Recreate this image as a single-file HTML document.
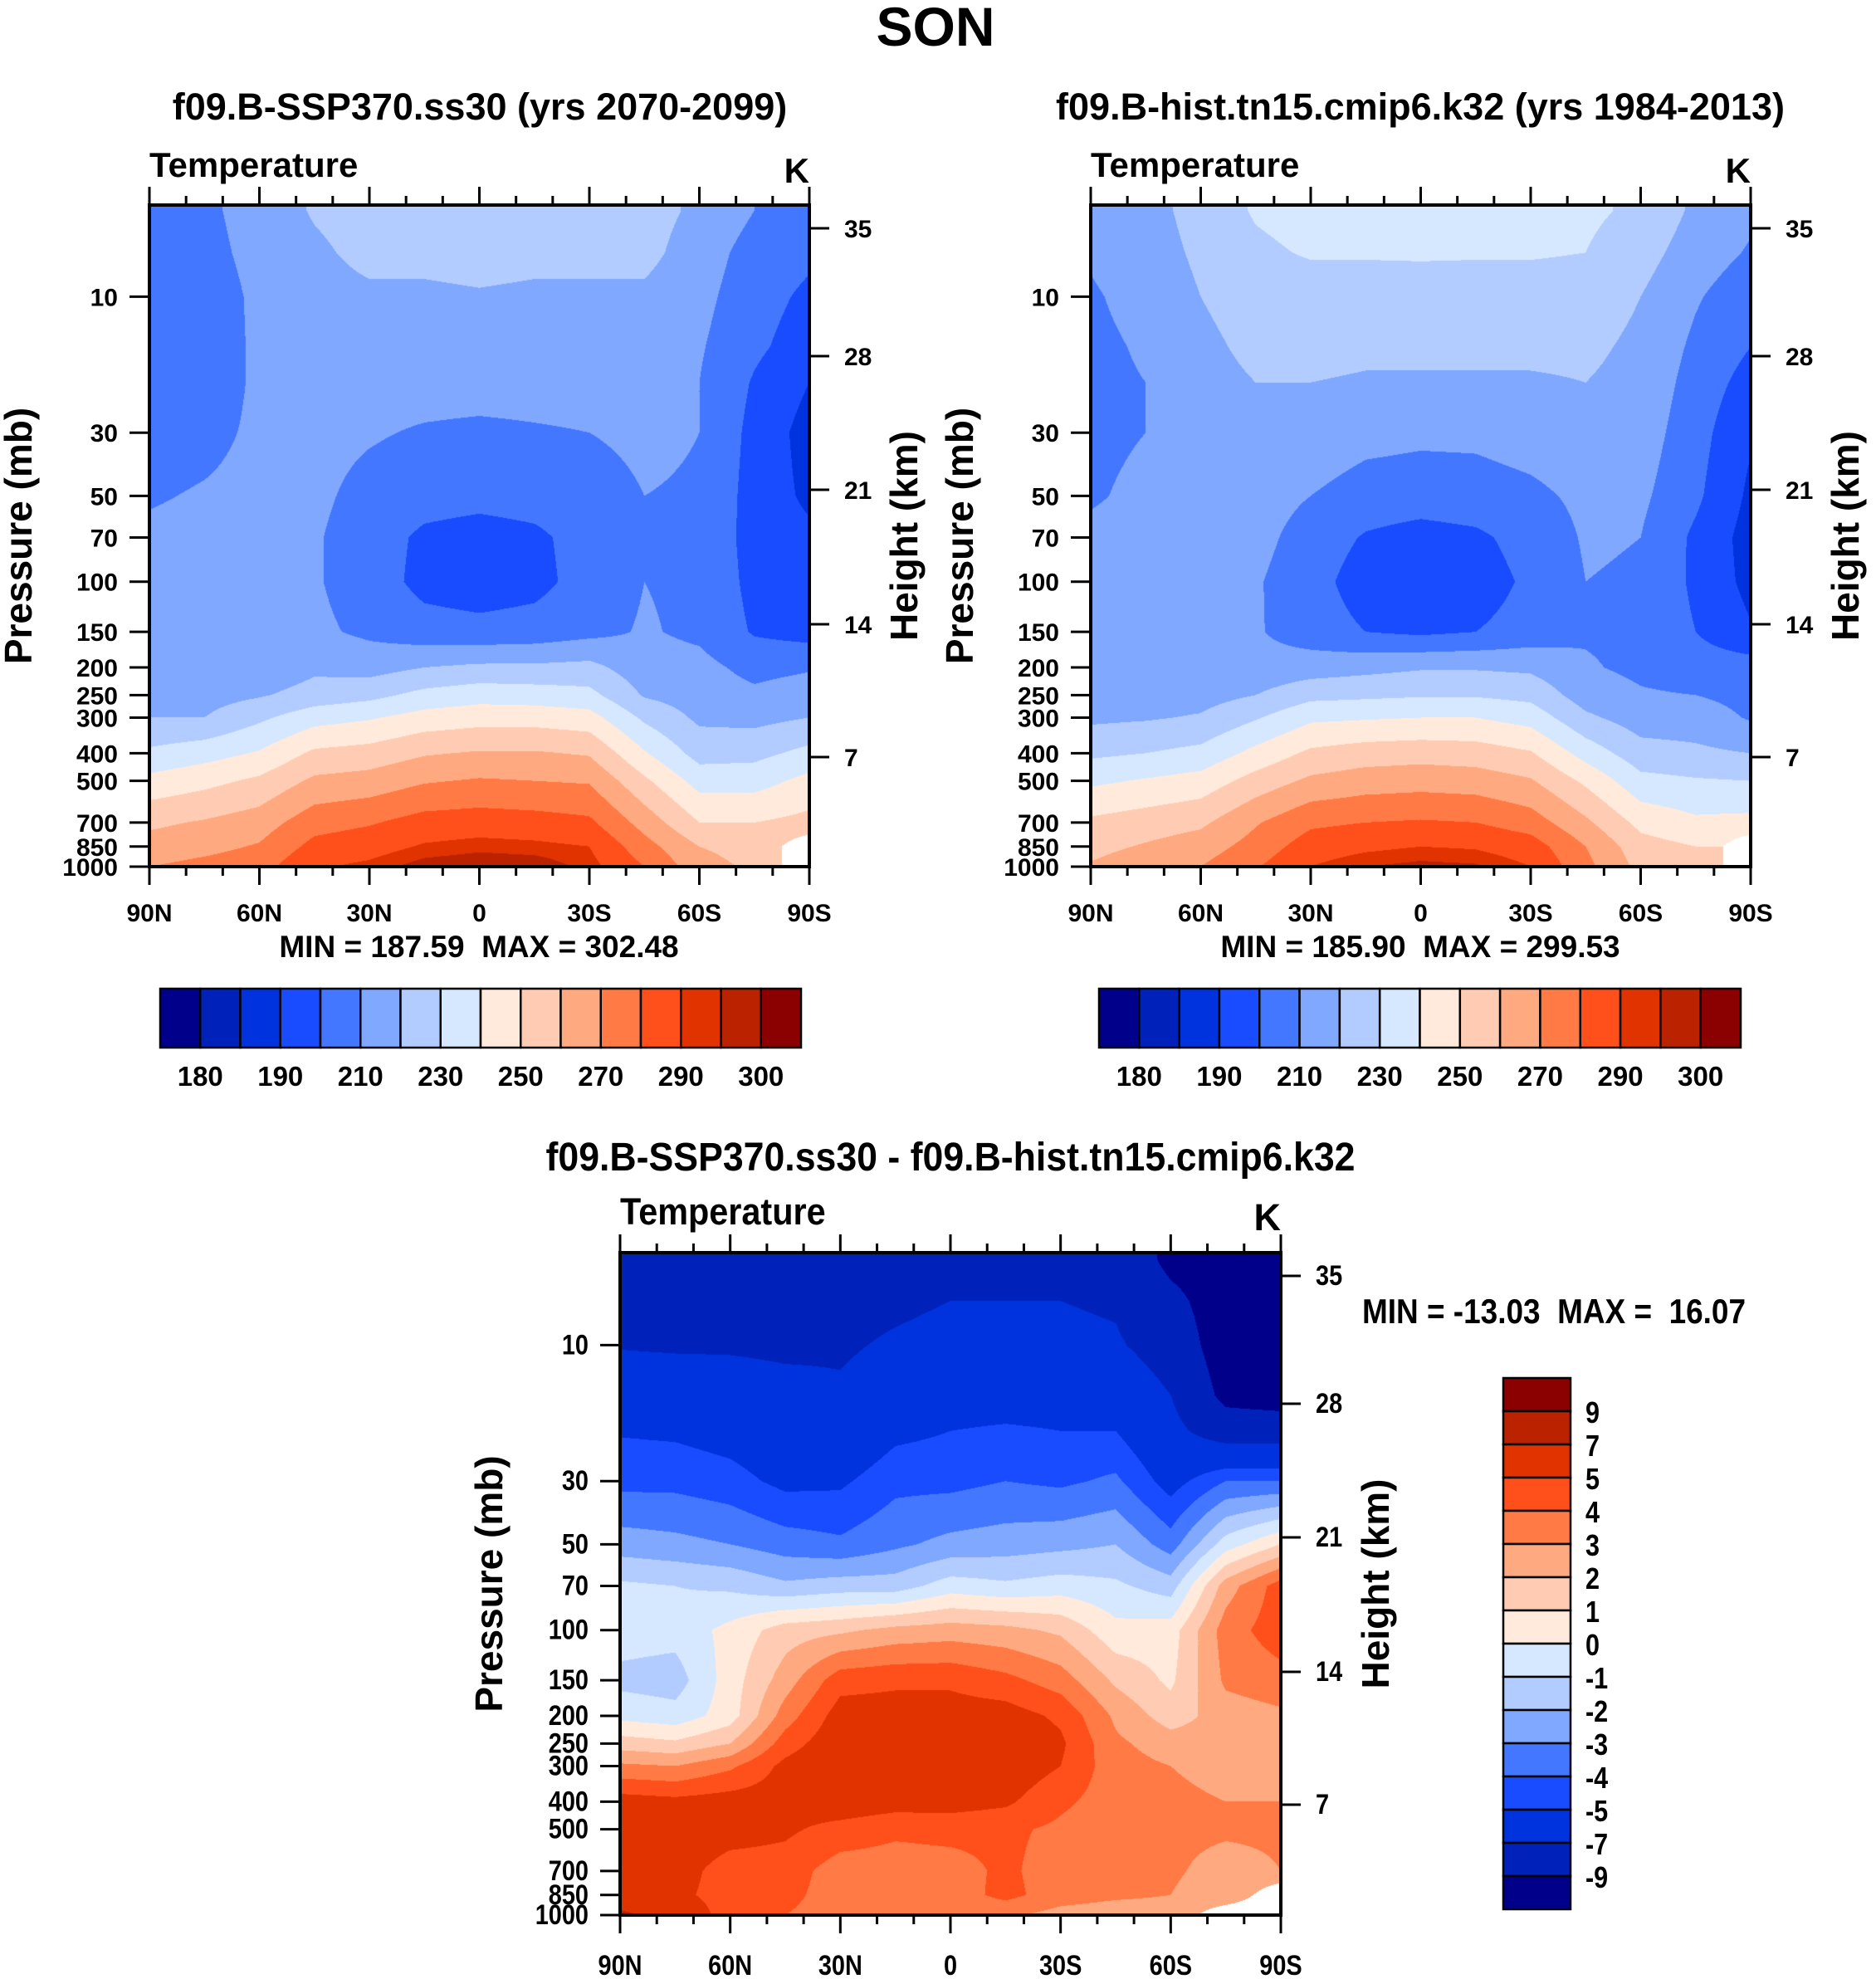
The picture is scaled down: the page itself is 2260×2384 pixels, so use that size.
<!DOCTYPE html>
<html><head><meta charset="utf-8"><style>
html,body{margin:0;padding:0;background:#fff;}
#root{position:relative;width:2260px;height:2384px;overflow:hidden;background:#fff;}
canvas{position:absolute;}
svg{position:absolute;left:0;top:0;}
text{font-family:"Liberation Sans",sans-serif;font-weight:bold;fill:#000;white-space:pre;}
</style></head><body>
<div id="root">
<canvas id="c1"></canvas>
<canvas id="c2"></canvas>
<canvas id="c3"></canvas>
<svg id="ov" width="2260" height="2384"></svg>
</div>
<script>
const LATS=[90,75,60,45,30,15,0,-15,-30,-45,-60,-75,-90];
const PLEVS=[5,7,10,15,20,30,50,70,100,150,200,250,300,400,500,700,850,1000];
const T_FUT=[
[204,208,214,221,225,226,226,226,225,224,218,210,206],
[204,207,213,218,223,223,224,223,223,223,215,206,202],
[203,205,212,216,218,218,219,218,218,218,213,204,198],
[203,204,212,215,216,216,216,216,216,215,211,202,195],
[204,204,212,214,214,214,214,214,214,214,210,199,190],
[205,207,212,213,211,209,208,209,210,212,210,197,186],
[209,211,213,212,207,204,203,204,206,210,209,196,188],
[212,213,213,211,205,198,196,198,204,210,208,196,192],
[214,214,214,211,205,197,195,197,204,210,208,197,194],
[215,215,215,212,208,204,203,204,207,211,208,199,196],
[212,212,212,218,216,220,222,222,223,214,213,207,209],
[215,216,219,224,227,233,236,235,233,219,215,212,215],
[220,220,228,236,239,244,246,246,244,228,218,217,220],
[232,236,241,252,254,259,261,261,259,241,226,227,233],
[243,247,252,262,264,269,271,270,269,252,236,236,243],
[258,261,265,276,279,284,285,284,282,266,250,250,253],
[264,267,271,283,286,291,293,292,290,274,260,256,null],
[270,273,276,289,292,298,300,299,293,280,264,258,null]];
const T_HIST=[
[212,216,224,231,234,235,235,235,234,232,228,218,212],
[211,215,222,228,231,231,231,231,231,230,224,215,209],
[209,213,220,224,225,225,226,225,225,225,220,211,204],
[208,211,218,222,223,222,222,222,222,222,218,208,200],
[208,210,217,220,220,219,219,219,219,220,217,206,196],
[208,210,216,218,216,213,212,212,214,216,215,204,191],
[209,212,214,214,210,206,205,206,208,212,212,202,188],
[212,213,214,213,206,199,196,198,204,211,210,198,186],
[214,214,214,211,204,195,193,195,202,210,209,198,187],
[215,215,215,211,205,200,198,200,204,209,208,200,191],
[211,211,211,213,215,217,219,219,218,211,208,205,205],
[214,215,216,220,227,228,229,229,227,215,211,210,207],
[218,219,221,229,238,239,240,240,236,222,215,215,209],
[228,230,233,243,252,255,256,255,251,236,224,222,220],
[238,241,244,254,262,265,266,265,261,248,233,231,230],
[252,255,258,269,278,280,281,280,275,262,247,242,243],
[257,261,265,274,285,288,290,289,285,270,254,250,null],
[261,266,270,279,290,295,297,296,290,273,257,252,null]];
const T_DIFF=[
[-8,-8,-8,-8,-8,-8,-7.5,-7.5,-7.5,-7.5,-9.5,-10,-10],
[-7.8,-7.8,-7.7,-7.5,-7.5,-7.3,-7,-7,-7,-7.2,-8.5,-10,-10],
[-7.1,-7.2,-7.2,-7.3,-7.2,-6.8,-6.5,-6.5,-6.6,-6.8,-7.8,-10,-10],
[-6,-6,-6.2,-6.5,-6.8,-6.2,-5.8,-5.8,-5.8,-5.8,-7,-9.5,-9.8],
[-5.1,-5.2,-5.5,-6,-6.3,-5.3,-5,-4.8,-5,-5,-6.5,-8,-8],
[-4.3,-4.3,-4.6,-5.3,-5.2,-4.3,-4.3,-4,-4.2,-3.8,-5.5,-4,-4],
[-2.5,-2.7,-3,-3.5,-3.8,-3.2,-2.7,-2.5,-2.3,-2,-3.5,-0.5,1],
[-0.8,-1,-1.2,-1.8,-1.5,-1.5,-0.5,-0.8,-0.5,-0.8,-1.5,2.5,4.5],
[-0.5,-0.6,0.3,1.5,1.8,2.3,2.5,2.3,1.8,0.3,0.5,3.5,4.6],
[-1.3,-1.5,0.5,2.5,4.6,4.8,4.8,4.3,3.5,1.8,0.8,3.2,3.6],
[-0.3,-0.6,0.5,3.5,5.5,5.5,5.5,5.5,4.8,2.8,1.5,2.5,2.8],
[1.5,1.2,2,4.5,5.8,5.8,5.8,5.8,5.2,3.2,2.5,2.5,2.6],
[3.2,3,3.8,5.3,6,6,6,5.8,5,3.4,3,2.7,2.7],
[5.5,5.3,5.5,5.5,5.8,5.5,5.5,5.2,4.2,3.5,3.2,3,3],
[5.8,5.8,5.5,5.2,4.6,4.2,4.3,4.2,3.8,3.4,3.3,3.2,3.2],
[5.5,5.5,4.5,4.5,3.5,3.5,3.6,4.2,3.5,3.3,3.2,2.5,3],
[5.5,5.3,4.5,4.3,3.5,3.5,3.5,4.3,3.5,3.2,3,2.2,null],
[7.5,6,4.5,4,3.5,3.5,3.2,3.2,2.6,2.4,2.5,null,null]];
const BOUNDS_T=[180,185,190,200,210,220,230,240,250,260,270,280,290,295,300];
const BOUNDS_D=[-9,-7,-5,-4,-3,-2,-1,0,1,2,3,4,5,7,9];
const LABELS_T=["180","190","210","230","250","270","290","300"];
const LABELS_D=["9","7","5","4","3","2","1","0","-1","-2","-3","-4","-5","-7","-9"];
const COLORS=["#00008b","#0022bb","#0033dd","#1a4cff","#4477ff","#80a8ff","#b3ccff","#d6e8ff","#ffeadb","#ffccb3","#ffa980","#ff7a45","#ff4f1a","#e03300","#bb2200","#8b0000"];
const PTICKS=[10,30,50,70,100,150,200,250,300,400,500,700,850,1000];
const HTICKS=[35,28,21,14,7];
const HTICKY=[28,182,343,505,665];
const XLAB=["90N","60N","30N","0","30S","60S","90S"];

const DEC=343.3;
function rgb(h){return [parseInt(h.substr(1,2),16),parseInt(h.substr(3,2),16),parseInt(h.substr(5,2),16)];}
const RGB=COLORS.map(rgb);
function lvl(v,b){let k=0;while(k<b.length&&v>=b[k])k++;return k;}
const LP=PLEVS.map(p=>Math.log10(p));
function sample(grid,lat,p){
  let fx=(90-lat)/15; if(fx<0)fx=0; if(fx>12)fx=12;
  let i0=Math.min(11,Math.floor(fx)); let tx=fx-i0;
  let lp=Math.log10(p); let j=0; let ty=0;
  if(lp>LP[0]){while(j<LP.length-2&&lp>LP[j+1])j++; ty=(lp-LP[j])/(LP[j+1]-LP[j]); if(ty>1)ty=1;}
  const c=[[grid[j][i0],(1-tx)*(1-ty)],[grid[j][i0+1],tx*(1-ty)],[grid[j+1][i0],(1-tx)*ty],[grid[j+1][i0+1],tx*ty]];
  let s=0,w=0,nw=0;
  for(const [v,ww] of c){if(v===null)nw+=ww;else{s+=v*ww;w+=ww;}}
  if(nw>0.5||w===0)return null;
  return s/w;
}
function drawCanvas(id,grid,bounds,L,T,W,H){
  const cv=document.getElementById(id);
  cv.width=W;cv.height=H;cv.style.left=L+'px';cv.style.top=T+'px';
  const ctx=cv.getContext('2d');const im=ctx.createImageData(W,H);
  for(let y=0;y<H;y++){
    const p=Math.pow(10,3-(H-y-0.5)/DEC);
    for(let x=0;x<W;x++){
      const lat=90-180*(x+0.5)/W;
      const v=sample(grid,lat,p);
      const o=(y*W+x)*4;
      let col=[255,255,255];
      if(v!==null)col=RGB[lvl(v,bounds)];
      im.data[o]=col[0];im.data[o+1]=col[1];im.data[o+2]=col[2];im.data[o+3]=255;
    }
  }
  ctx.putImageData(im,0,0);
}
const NS="http://www.w3.org/2000/svg";
const ov=document.getElementById('ov');
function el(tag,attrs){const e=document.createElementNS(NS,tag);for(const k in attrs)e.setAttribute(k,attrs[k]);ov.appendChild(e);return e;}
function txt(x,y,s,size,anchor,sx,rot){
  const e=el('text',{x:0,y:0,'font-size':size,'text-anchor':anchor||'start',transform:`translate(${x},${y})`+(rot?` rotate(${rot})`:'')+(sx?` scale(${sx},1)`:'')});
  e.textContent=s;return e;
}
function line(x1,y1,x2,y2,w){return el('line',{x1,y1,x2,y2,stroke:'#000','stroke-width':w||3});}

function panel(L,T,W,H,o){
  const R=L+W,B=T+H;const sx=o.sx;
  const fr=el('rect',{x:L,y:T,width:W,height:H,fill:'none',stroke:'#000','stroke-width':4});
  
  
  for(let k=0;k<=18;k++){
    const x=L+W*k/18;const major=k%3===0;const len=major?22:11;
    const t1=line(x,T,x,T-len,3);
    
    
    const t2=line(x,B,x,B+len,3);
    
    
  }
  XLAB.forEach((s,k)=>{
    const t=txt(L+W*k/6,B+o.xly,s,o.fs,'middle',sx);
    
    
  });
  PTICKS.forEach(p=>{
    const y=B-(3-Math.log10(p))*DEC;
    const t=line(L,y,L-24,y,3);
    
    
    const lb=txt(L-38,y+11,String(p),o.fs,'end',sx);
    
    
  });
  HTICKS.forEach((h,k)=>{
    const y=T+HTICKY[k];
    const t=line(R,y,R+24,y,3);
    
    
    const lb=txt(R+42,y+11,String(h),o.fs,'start',sx);
    
    
  });
  const tp=txt(L,T-34,'Temperature',o.tf,'start',o.tsx);
  
  
  const kk=txt(R,T-27,'K',o.tf,'end');
  
  
  const py=txt(L-142,T+H/2,'Pressure (mb)',46,'middle',null,-90);
  
  
  const hy=txt(R+130,T+H/2,'Height (km)',46,'middle',null,-90);
  
  
}
function hbar(L,T,W,H,cx,minmax){
  const bw=W/16;
  for(let k=0;k<16;k++){
    const r=el('rect',{x:L+k*bw,y:T,width:bw,height:H,fill:COLORS[k],stroke:'#000','stroke-width':2.5});
    
    
  }
  LABELS_T.forEach((s,k)=>{
    const t=txt(L+bw*(1+2*k),T+H+46,s,33,'middle');
    
    
  });
  const m=txt(cx,T-38,minmax,37,'middle');
  
  
}
function vbar(L,T,W,H){
  const bh=H/16;
  for(let k=0;k<16;k++){
    const r=el('rect',{x:L,y:T+k*bh,width:W,height:bh,fill:COLORS[15-k],stroke:'#000','stroke-width':2.5});
    
    
  }
  LABELS_D.forEach((s,k)=>{
    const t=txt(L+W+18,T+bh*(k+1)+14,s,36,'start',0.85);
    
    
  });
}
drawCanvas('c1',T_FUT,BOUNDS_T,180,247,795,797);
drawCanvas('c2',T_HIST,BOUNDS_T,1314,247,795,797);
drawCanvas('c3',T_DIFF,BOUNDS_D,747,1509,796,798);
panel(180,247,795,797,{sx:null,fs:30,xly:66,tf:42});
panel(1314,247,795,797,{sx:null,fs:30,xly:66,tf:42});
panel(747,1509,796,798,{sx:0.85,fs:34,xly:72,tf:45,tsx:0.92});
hbar(193,1191,772,71,577,'MIN = 187.59  MAX = 302.48');
hbar(1324,1191,773,71,1711,'MIN = 185.90  MAX = 299.53');
vbar(1811,1660,81,640);
const s1=txt(1127,55,'SON',66,'middle');


const s2=txt(578,144,'f09.B-SSP370.ss30 (yrs 2070-2099)',45,'middle');


const s3=txt(1711,144,'f09.B-hist.tn15.cmip6.k32 (yrs 1984-2013)',45,'middle');


const s4=txt(1145,1410,'f09.B-SSP370.ss30 - f09.B-hist.tn15.cmip6.k32',48,'middle',0.93);


const s5=txt(1872,1594,'MIN = -13.03  MAX =  16.07',42,'middle',0.88);


</script>
</body></html>
